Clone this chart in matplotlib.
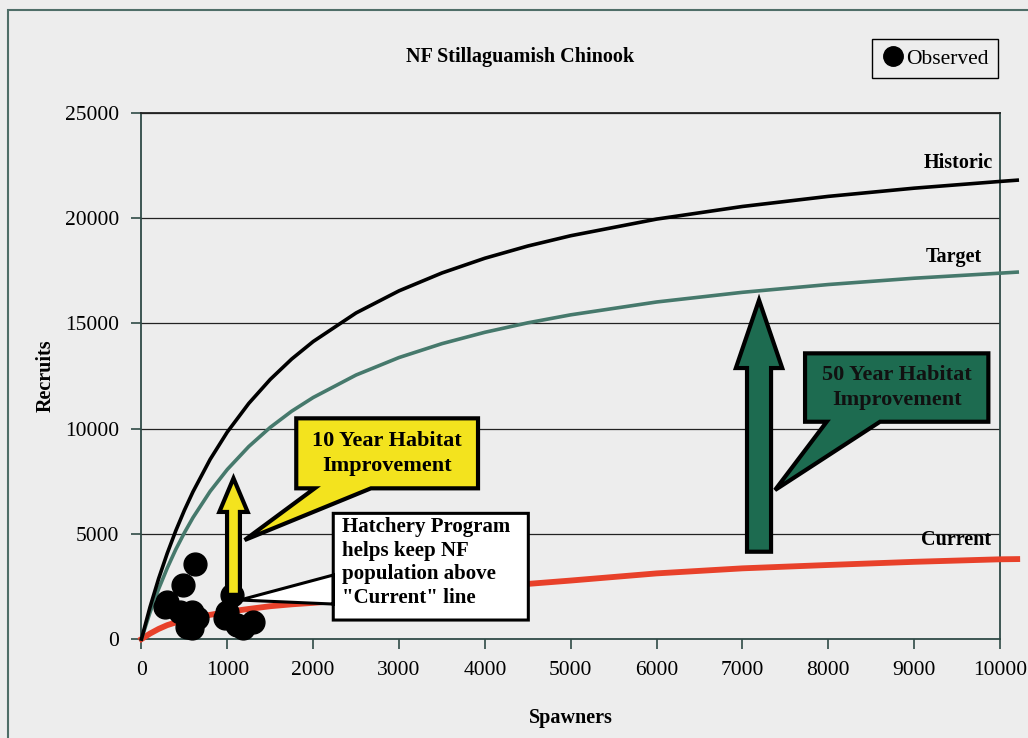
import numpy as np
import matplotlib.pyplot as plt
from matplotlib.patches import Polygon, FancyArrow, Rectangle
from matplotlib.lines import Line2D

plt.rcParams['font.family'] = ['Liberation Serif', 'DejaVu Serif']
plt.rcParams['font.size'] = 15

# stock-recruit curves
spawners = [0, 100, 200, 300, 400, 500, 600, 800, 1000, 1250, 1500, 1750,
            2000, 2500, 3000, 3500, 4000, 4500, 5000, 6000, 7000, 8000,
            9000, 10000, 10200]
historic = [0, 1520, 2870, 4070, 5150, 6120, 7000, 8540, 9840, 11200, 12340,
            13310, 14140, 15500, 16550, 17400, 18100, 18680, 19170, 19960,
            20560, 21040, 21430, 21750, 21810]
target = [0, 1270, 2380, 3370, 4260, 5050, 5770, 7020, 8060, 9150, 10060,
          10830, 11480, 12550, 13380, 14040, 14580, 15030, 15410, 16020,
          16480, 16850, 17150, 17390, 17440]
current = [0, 260, 480, 660, 790, 900, 990, 1150, 1290, 1430, 1560, 1650,
           1720, 1880, 2050, 2230, 2420, 2620, 2780, 3120, 3360, 3520, 3670,
           3790, 3800]

# observed spawner / recruit pairs
obs_spawners = [623, 487, 293, 274, 448, 585, 643, 527, 585, 1050, 973,
                992, 1109, 1303, 1186]
obs_recruits = [3565, 2567, 1773, 1535, 1298, 1298, 984, 585, 508, 2090,
                984, 1298, 665, 822, 508]

x_ticks = np.arange(0, 10001, 1000)
y_ticks = np.arange(0, 25001, 5000)

bg = '#ededed'
fig = plt.figure(figsize=(10.28, 7.38), dpi=100, facecolor=bg)
ax = fig.add_axes([0.1376, 0.1341, 0.8352, 0.7127], facecolor=bg)

# chart-area border
fig.patches.append(Rectangle((8 / 1028, -0.2), 1.2, 1.2 - 10 / 738,
                             transform=fig.transFigure, fill=False,
                             edgecolor='#4f6e68', lw=1.5, zorder=0))

for y in y_ticks[1:]:
    ax.axhline(y, color='#222222', lw=0.9, zorder=1)

ax.plot(spawners, current, color='#e8412a', lw=4.2, zorder=3, clip_on=False)
ax.plot(spawners, target, color='#46796c', lw=2.6, zorder=3, clip_on=False)
ax.plot(spawners, historic, color='black', lw=2.6, zorder=3, clip_on=False)
ax.scatter(obs_spawners, obs_recruits, s=270, color='black', zorder=4,
           clip_on=False)

lbl = dict(fontsize=14.5, fontweight='bold', ha='right', va='center', zorder=5)
ax.text(9918, 22620, 'Historic', **lbl)
ax.text(9790, 18155, 'Target', **lbl)
ax.text(9895, 4705, 'Current', **lbl)

# up arrows
ax.add_patch(FancyArrow(1072, 2100, 0, 5540, width=150, head_width=330,
                        head_length=1600, length_includes_head=True,
                        facecolor='#f3e31e', edgecolor='black', lw=3, zorder=6))
ax.add_patch(FancyArrow(7193, 4150, 0, 11960, width=280, head_width=540,
                        head_length=3230, length_includes_head=True,
                        facecolor='#1d6b50', edgecolor='black', lw=3, zorder=6))


def callout_bottom(x0, x1, y0, y1, wa, wb, tip):
    return [(x0, y1), (x1, y1), (x1, y0), (wb, y0), tip, (wa, y0), (x0, y0)]


def callout_left(x0, x1, y0, y1, wa, wb, tip):
    return [(x0, y1), (x1, y1), (x1, y0), (x0, y0), (x0, wb), tip, (x0, wa)]


ax.add_patch(Polygon(callout_bottom(1803, 3920, 7163, 10490, 2017, 2673,
                                    (1202, 4705)),
                     closed=True, facecolor='#f3e31e', edgecolor='black',
                     lw=3, zorder=7))
ax.text(2862, 8830, '10 Year Habitat\nImprovement', fontsize=16,
        fontweight='bold', ha='center', va='center', linespacing=1.3,
        zorder=8)

ax.add_patch(Polygon(callout_bottom(7729, 9864, 10328, 13579, 7981, 8602,
                                    (7379, 7082)),
                     closed=True, facecolor='#1d6b50', edgecolor='black',
                     lw=3, zorder=7))
ax.text(8797, 11950, '50 Year Habitat\nImprovement', fontsize=16,
        fontweight='bold', ha='center', va='center', linespacing=1.3,
        color='#111111', zorder=8)

ax.add_patch(Polygon(callout_left(2234, 4506, 903, 5974, 1663, 3042,
                                  (1147, 1854)),
                     closed=True, facecolor='white', edgecolor='black',
                     lw=2.2, zorder=7))
ax.text(2330, 5800, 'Hatchery Program\nhelps keep NF\npopulation above\n'
        '"Current" line', fontsize=15, fontweight='bold', ha='left',
        va='top', linespacing=1.24, zorder=8)

ax.set_xlim(0, 10000)
ax.set_ylim(0, 25000)
ax.set_xticks(x_ticks)
ax.set_yticks(y_ticks)
ax.tick_params(direction='out', length=7, width=1.2, color='#2f4a46',
               labelsize=15.5, pad=9)
for s in ax.spines.values():
    s.set_color('#2f4a46')
    s.set_linewidth(1.3)
ax.spines['top'].set_color('#222222')

ax.set_xlabel('Spawners', fontsize=14.5, fontweight='bold', labelpad=20)
ax.set_ylabel('Recruits', fontsize=14.5, fontweight='bold', labelpad=7)
fig.text(520 / 1028, 1 - 57 / 738, 'NF Stillaguamish Chinook', fontsize=14.5,
         fontweight='bold', ha='center', va='center')

handle = Line2D([], [], marker='o', ls='none', color='black', markersize=14)
leg = fig.legend([handle], ['Observed'], loc='upper right',
                 bbox_to_anchor=(998 / 1028, 1 - 39 / 738), frameon=True,
                 fancybox=False, edgecolor='black', facecolor=bg,
                 fontsize=15.5, handletextpad=0.1, handlelength=1.0,
                 borderpad=0.45, borderaxespad=0, framealpha=1)
leg.get_frame().set_linewidth(1.0)

plt.savefig('out.png', dpi=100, facecolor=bg)
